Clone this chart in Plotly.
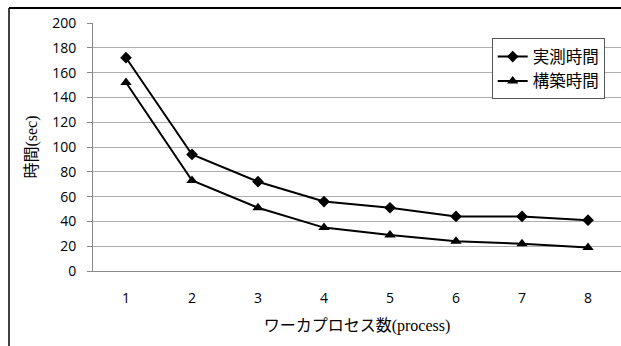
import plotly.graph_objects as go

categories = ["1", "2", "3", "4", "5", "6", "7", "8"]
measured = [172, 94, 72, 56, 51, 44, 44, 41]
build = [152, 73, 51, 35, 29, 24, 22, 19]
series_names = ["実測時間", "構築時間"]
y_ticks = [0, 20, 40, 60, 80, 100, 120, 140, 160, 180, 200]

W, H = 621, 346
ml, mr, mt, mb = 93, 0, 23, 75
pw = W - ml - mr
ph = H - mt - mb

fig = go.Figure()
fig.add_trace(go.Scatter(x=categories, y=measured, name=series_names[0], mode="lines+markers",
                         line=dict(color="black", width=2),
                         marker=dict(symbol="diamond", size=9, color="black")))
fig.add_trace(go.Scatter(x=categories, y=build, name=series_names[1], mode="lines+markers",
                         line=dict(color="black", width=2),
                         marker=dict(symbol="triangle-up", size=10, color="black")))

fx = (9 - ml) / pw
fy_top = 1 + (mt - 8) / ph
fig.add_shape(type="line", xref="paper", yref="paper", x0=0.0, x1=1.0, y0=fy_top, y1=fy_top,
              line=dict(color="black", width=2), layer="above")
fig.add_shape(type="line", xref="paper", yref="paper", x0=fx, x1=0.0, y0=fy_top, y1=fy_top,
              line=dict(color="black", width=2), layer="above")
fig.add_shape(type="line", xref="paper", yref="paper", x0=fx, x1=fx, y0=-0.5, y1=fy_top,
              line=dict(color="black", width=1.5), layer="above")

fig.update_layout(
    width=W, height=H,
    margin=dict(l=ml, r=mr, t=mt, b=mb),
    paper_bgcolor="white", plot_bgcolor="white",
    font=dict(family="Noto Sans CJK JP", color="black", size=14),
    showlegend=True,
    legend=dict(x=(491.7 - ml) / pw, y=(270.7 - 38) / ph, xanchor="left", yanchor="top",
                bordercolor="#555555", borderwidth=1, bgcolor="white",
                font=dict(size=16.5, family="Noto Sans CJK JP"),
                itemwidth=30, tracegroupgap=0),
    xaxis=dict(type="category", range=[-0.5, 7.5], showgrid=False, showline=True,
               linecolor="#888888", linewidth=1, ticks="", ticklabelstandoff=14,
               tickfont=dict(family="Open Sans", size=14),
               title=dict(text="ワーカプロセス数<span style='font-family:Liberation Serif'>(process)</span>",
                          font=dict(size=16, family="Noto Sans CJK JP"), standoff=14)),
    yaxis=dict(range=[0, 200], tickvals=y_ticks, showgrid=True, gridcolor="#AFAFAF", gridwidth=1,
               showline=True, linecolor="#888888", linewidth=1, ticks="outside", ticklen=5,
               tickcolor="#888888", zeroline=False, ticklabelstandoff=8,
               tickfont=dict(family="Open Sans", size=14),
               title=dict(text="時間<span style='font-family:Liberation Serif'>(sec)</span>",
                          font=dict(size=16, family="Noto Sans CJK JP"), standoff=10)),
)

fig.write_html("out.html", config={"displayModeBar": False},
               post_script="document.body.style.margin='0';")
